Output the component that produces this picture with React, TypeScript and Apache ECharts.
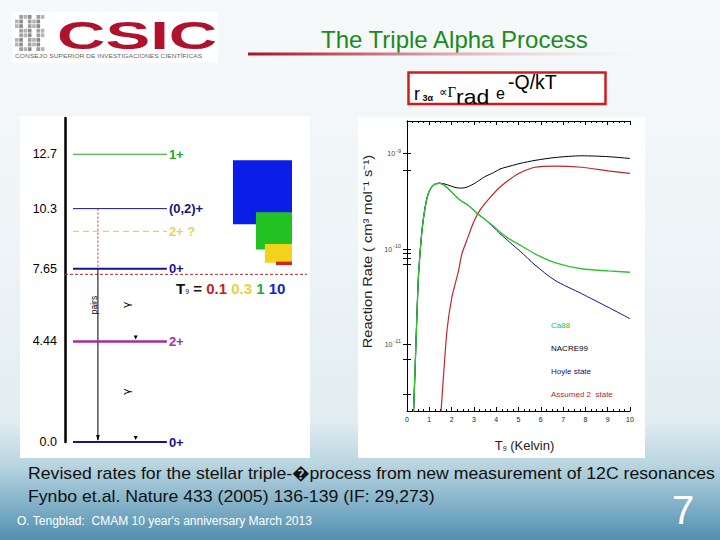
import React, { useEffect, useRef } from 'react';
import * as echarts from 'echarts';

// ---------- Reaction-rate panel (T9 in GK, rate in cm^3 mol^-1 s^-1) ----------
const ca88T = [0.28, 0.37, 0.45, 0.52, 0.67, 0.82, 0.97, 1.19, 1.46, 1.70, 1.94, 2.20, 2.46, 2.68, 2.98, 3.16, 3.50, 3.87, 4.17, 4.62, 5.07, 5.74, 6.63, 7.83, 9.02, 10.0];
const ca88Rate = [1.6e-12, 6.2e-12, 2.2e-11, 5.5e-11, 1.55e-10, 2.8e-10, 3.9e-10, 4.7e-10, 4.9e-10, 4.6e-10, 4.1e-10, 3.55e-10, 3.15e-10, 2.95e-10, 2.57e-10, 2.35e-10, 2.04e-10, 1.74e-10, 1.51e-10, 1.26e-10, 1.10e-10, 8.9e-11, 7.2e-11, 6.2e-11, 5.9e-11, 5.7e-11];

const nacre99T = [0.28, 0.37, 0.45, 0.52, 0.67, 0.82, 0.97, 1.19, 1.46, 1.70, 1.94, 2.20, 2.46, 2.68, 2.98, 3.16, 3.50, 3.87, 4.17, 4.62, 5.07, 5.74, 6.63, 7.83, 9.02, 10.0];
const nacre99Rate = [1.6e-12, 6.2e-12, 2.2e-11, 5.5e-11, 1.55e-10, 2.8e-10, 3.9e-10, 4.7e-10, 4.9e-10, 4.8e-10, 4.6e-10, 4.4e-10, 4.35e-10, 4.45e-10, 4.8e-10, 5.1e-10, 5.75e-10, 6.3e-10, 6.9e-10, 7.4e-10, 7.9e-10, 8.5e-10, 9.1e-10, 9.5e-10, 9.3e-10, 8.9e-10];

const hoyleT = [0.28, 0.37, 0.45, 0.52, 0.67, 0.82, 0.97, 1.19, 1.46, 1.70, 1.94, 2.20, 2.46, 2.68, 2.98, 3.16, 3.50, 3.87, 4.17, 4.62, 5.07, 5.74, 6.63, 7.83, 9.02, 10.0];
const hoyleRate = [1.6e-12, 6.2e-12, 2.2e-11, 5.5e-11, 1.55e-10, 2.8e-10, 3.9e-10, 4.7e-10, 4.9e-10, 4.6e-10, 4.1e-10, 3.55e-10, 3.15e-10, 2.95e-10, 2.57e-10, 2.35e-10, 2.04e-10, 1.70e-10, 1.45e-10, 1.17e-10, 9.5e-11, 6.8e-11, 4.7e-11, 3.4e-11, 2.45e-11, 1.86e-11];

const state2T = [1.50, 1.61, 1.79, 2.01, 2.31, 2.46, 2.68, 2.98, 3.28, 3.73, 4.17, 4.62, 5.07, 5.74, 6.63, 7.83, 9.02, 10.0];
const state2Rate = [1.6e-12, 3.8e-12, 1.38e-11, 3.1e-11, 5.9e-11, 8.9e-11, 1.23e-10, 1.9e-10, 2.57e-10, 3.47e-10, 4.47e-10, 5.4e-10, 6.3e-10, 7.2e-10, 7.4e-10, 7.2e-10, 6.6e-10, 6.2e-10];

const seriesNames = ['Ca88', 'NACRE99', 'Hoyle state', 'Assumed 2  state'];
const rateAxisMin = 2e-12;
const rateAxisMax = 2.2e-9;
const rateLabelValues = [1e-11, 1e-10, 1e-9];
const rateTickValues = [1e-9, 6.7e-10, 1e-10, 9e-11, 8e-11, 7e-11, 1e-11, 7e-12, 3e-12];
const tempAxisMin = 0;
const tempAxisMax = 10;

// ---------- 12C level scheme (MeV) ----------
const levelEnergy = [12.7, 10.3, 9.3, 7.65, 4.44, 0.0];
const levelSpin = ['1+', '(0,2)+', '2+ ?', '0+', '2+', '0+'];
const levelLabelValues = [0.0, 4.44, 7.65, 10.3, 12.7];
const levelLabelText = ['0.0', '4.44', '7.65', '10.3', '12.7'];
const alphaThreshold = 7.4;
const transFrom = [10.3, 7.65, 7.65, 4.44];
const transTo = [7.65, 0.0, 4.44, 0.0];
const transKind = ['dotted', 'pairs', 'gamma', 'gamma'];
const gamowT9 = ['10', '1', '0.3', '0.1'];
const gamowLow = [9.61, 8.50, 7.91, 7.81];
const gamowHigh = [12.44, 10.14, 8.74, 7.96];
const gamowLeft = [0.694, 0.789, 0.826, 0.872];

// ---------- styles ----------
const FONT = 'Liberation Sans, Arial, sans-serif';
const seriesColors = ['#2fc42f', '#000000', '#0c1482', '#c0262c'];
const levelColor = ['#22a822', '#16167a', '#e8d060', '#16168a', '#a42ca4', '#16168a'];
const levelWidth = [1, 1, 1.2, 2, 2.5, 2];
const levelDash = [false, false, true, false, false, false];
const gamowColor = ['#0a1ee8', '#22c222', '#f2d21a', '#d42020'];
const LEVEL_X0 = 0.033;
const LEVEL_X1 = 0.421;
const PAIR_X = 0.136;
const GAMMA_X = 0.255;
const GAMMA_HEAD_X = 0.292;
const GAMOW_RIGHT = 0.938;

function zip(xs: number[], ys: number[]) {
  return xs.map((x, i) => [x, ys[i]]);
}

function logoSquares() {
  const out: any[] = [];
  for (let r = 0; r < 8; r++) {
    for (let c = 0; c < 7; c++) {
      const k = (r * 5 + c * 3 + (r % 2)) % 4;
      if (k === 0) continue;
      out.push({
        type: 'rect',
        shape: { x: 15 + c * 4.3, y: 15 + r * 4.6, width: 3.6, height: 3.8 },
        style: { fill: k === 1 ? '#8a8a8a' : k === 2 ? '#b4b4b4' : '#9e9e9e' },
        z: 5,
      });
    }
  }
  return out;
}

export default function App() {
  const ref = useRef<HTMLDivElement>(null);
  useEffect(() => {
    if (!ref.current) return;
    const chart = echarts.init(ref.current, null, { renderer: 'svg' });

    const rateAxisCommon = {
      type: 'log',
      logBase: 10,
      min: rateAxisMin,
      max: rateAxisMax,
      gridIndex: 0,
      splitLine: { show: false },
      axisLine: { show: true, lineStyle: { color: '#000', width: 1 } },
    };
    const tempAxisCommon = {
      type: 'value',
      min: tempAxisMin,
      max: tempAxisMax,
      interval: 1,
      gridIndex: 0,
      splitLine: { show: false },
      axisLine: { show: true, lineStyle: { color: '#000', width: 1 } },
      axisTick: { show: true, inside: true, length: 4, lineStyle: { color: '#000' } },
      minorTick: { show: true, splitNumber: 4, length: 2, lineStyle: { color: '#000' } },
    };

    const option: any = {
      animation: false,
      textStyle: { fontFamily: FONT },
      grid: [
        { left: 407, top: 121, width: 223, height: 290 },
        { left: 65, top: 118, width: 242, height: 324 },
      ],
      xAxis: [
        {
          ...tempAxisCommon,
          position: 'bottom',
          axisLabel: { fontSize: 7, color: '#222', margin: 5 },
          name: '{t|T}{s|9} (Kelvin)',
          nameLocation: 'middle',
          nameGap: 28,
          nameTextStyle: {
            padding: [0, 0, 0, 12],
            rich: {
              t: { fontSize: 13, color: '#222' },
              s: { fontSize: 7, color: '#222', padding: [6, 0, 0, 0] },
            },
            fontSize: 13,
            color: '#222',
          },
        },
        { ...tempAxisCommon, position: 'top', axisLabel: { show: false } },
        { type: 'value', gridIndex: 1, min: 0, max: 1, show: false },
      ],
      yAxis: [
        {
          ...rateAxisCommon,
          position: 'left',
          axisTick: { show: true, inside: true, length: 4, customValues: rateTickValues, lineStyle: { color: '#000' } },
          axisLabel: {
            customValues: rateLabelValues,
            margin: 6,
            formatter: (v: number) => `{b|10}{e|${Math.round(Math.log10(v))}}`,
            rich: {
              b: { fontSize: 7, color: '#444' },
              e: { fontSize: 5.5, color: '#444', padding: [0, 0, 6, 1] },
            },
          },
        },
        {
          ...rateAxisCommon,
          position: 'right',
          axisTick: { show: true, inside: true, length: 4, customValues: rateTickValues, lineStyle: { color: '#000' } },
          axisLabel: { show: false },
        },
        {
          type: 'value',
          gridIndex: 1,
          min: 0,
          max: 14.3,
          position: 'left',
          splitLine: { show: false },
          axisLine: { show: true, lineStyle: { color: '#000', width: 2.5 } },
          axisTick: { show: false },
          axisLabel: {
            customValues: levelLabelValues,
            formatter: (v: number) => levelLabelText[levelLabelValues.indexOf(v)] ?? String(v),
            fontSize: 12.5,
            color: '#000',
            margin: 8,
          },
        },
      ],
      legend: {
        left: 540,
        top: 315,
        orient: 'vertical',
        icon: 'none',
        itemWidth: 1,
        itemHeight: 10,
        itemGap: 14,
        selectedMode: false,
        textStyle: { fontSize: 8 },
        data: [0, 1, 2, 3].map((i) => ({ name: seriesNames[i], textStyle: { color: seriesColors[i], fontSize: 8 } })),
      },
      series: [
        {
          name: seriesNames[1], type: 'line', xAxisIndex: 0, yAxisIndex: 0, data: zip(nacre99T, nacre99Rate),
          showSymbol: false, smooth: 0.25, lineStyle: { color: seriesColors[1], width: 1 }, itemStyle: { color: seriesColors[1] },
        },
        {
          name: seriesNames[2], type: 'line', xAxisIndex: 0, yAxisIndex: 0, data: zip(hoyleT, hoyleRate),
          showSymbol: false, smooth: 0.25, lineStyle: { color: seriesColors[2], width: 1 }, itemStyle: { color: seriesColors[2] },
        },
        {
          name: seriesNames[3], type: 'line', xAxisIndex: 0, yAxisIndex: 0, data: zip(state2T, state2Rate),
          showSymbol: false, smooth: 0.2, lineStyle: { color: seriesColors[3], width: 1.2 }, itemStyle: { color: seriesColors[3] },
        },
        {
          name: seriesNames[0], type: 'line', xAxisIndex: 0, yAxisIndex: 0, data: zip(ca88T, ca88Rate),
          showSymbol: false, smooth: 0.25, lineStyle: { color: seriesColors[0], width: 1.4 }, itemStyle: { color: seriesColors[0] },
        },
        // Gamow windows
        {
          type: 'custom', xAxisIndex: 2, yAxisIndex: 2, silent: true,
          data: gamowLow.map((lo, i) => [gamowLeft[i], lo, gamowHigh[i]]),
          renderItem: (params: any, api: any) => {
            const i = params.dataIndex;
            const a = api.coord([api.value(0), api.value(2)]);
            const b = api.coord([GAMOW_RIGHT, api.value(1)]);
            return { type: 'rect', shape: { x: a[0], y: a[1], width: b[0] - a[0], height: b[1] - a[1] }, style: { fill: gamowColor[i] } };
          },
        },
        // 3-alpha threshold
        {
          type: 'custom', xAxisIndex: 2, yAxisIndex: 2, silent: true,
          data: [[0, alphaThreshold]],
          renderItem: (_p: any, api: any) => {
            const a = api.coord([0, api.value(1)]);
            const b = api.coord([1, api.value(1)]);
            return { type: 'line', shape: { x1: a[0], y1: a[1], x2: b[0], y2: b[1] }, style: { stroke: '#b02828', lineWidth: 1, lineDash: [3, 2] } };
          },
        },
        // transitions
        {
          type: 'custom', xAxisIndex: 2, yAxisIndex: 2, silent: true,
          data: transFrom.map((f, i) => [i, f, transTo[i]]),
          renderItem: (params: any, api: any) => {
            const i = params.dataIndex;
            const from = api.value(1);
            const to = api.value(2);
            const kind = transKind[i];
            if (kind === 'dotted') {
              const a = api.coord([PAIR_X, from]);
              const b = api.coord([PAIR_X, to]);
              return { type: 'line', shape: { x1: a[0], y1: a[1], x2: b[0], y2: b[1] }, style: { stroke: '#b83a3a', lineWidth: 1, lineDash: [2, 2] } };
            }
            if (kind === 'pairs') {
              const a = api.coord([PAIR_X, from]);
              const b = api.coord([PAIR_X, to]);
              const t = api.coord([PAIR_X, to + 0.79 * (from - to)]);
              return {
                type: 'group',
                children: [
                  { type: 'line', shape: { x1: a[0], y1: a[1], x2: b[0], y2: b[1] - 2 }, style: { stroke: '#000', lineWidth: 1 } },
                  { type: 'polygon', shape: { points: [[b[0] - 1.8, b[1] - 7], [b[0] + 1.8, b[1] - 7], [b[0], b[1] - 1]] }, style: { fill: '#000' } },
                  { type: 'text', x: t[0] - 4, y: t[1], rotation: Math.PI / 2, style: { text: 'pairs', fontSize: 8.5, fontFamily: FONT, fill: '#000', align: 'center', verticalAlign: 'middle' } },
                ],
              };
            }
            const m = api.coord([GAMMA_X, (from + to) / 2]);
            const h = api.coord([GAMMA_HEAD_X, to]);
            return {
              type: 'group',
              children: [
                { type: 'text', x: m[0], y: m[1], rotation: Math.PI / 2, style: { text: 'γ', fontSize: 11, fontFamily: 'DejaVu Sans', fill: '#000', align: 'center', verticalAlign: 'middle' } },
                { type: 'polygon', shape: { points: [[h[0] - 2, h[1] - 6], [h[0] + 2, h[1] - 6], [h[0], h[1] - 2]] }, style: { fill: '#000' } },
              ],
            };
          },
        },
        // levels
        {
          type: 'custom', xAxisIndex: 2, yAxisIndex: 2, silent: true,
          data: levelEnergy.map((e) => [0, e]),
          renderItem: (params: any, api: any) => {
            const i = params.dataIndex;
            const p0 = api.coord([LEVEL_X0, api.value(1)]);
            const p1 = api.coord([LEVEL_X1, api.value(1)]);
            return {
              type: 'group',
              children: [
                {
                  type: 'line',
                  shape: { x1: p0[0], y1: p0[1], x2: p1[0], y2: p1[1] },
                  style: { stroke: levelColor[i], lineWidth: levelWidth[i], lineDash: levelDash[i] ? [6, 4] : null },
                },
                {
                  type: 'text', x: p1[0] + 2, y: p1[1],
                  style: { text: levelSpin[i], fill: levelColor[i], fontSize: 13, fontWeight: 'bold', fontFamily: FONT, align: 'left', verticalAlign: 'middle' },
                },
              ],
            };
          },
        },
      ],
      graphic: [
        // white panels
        { type: 'rect', shape: { x: 20, y: 116, width: 290, height: 342 }, style: { fill: '#ffffff' }, z: -10 },
        { type: 'rect', shape: { x: 358, y: 117, width: 287, height: 341 }, style: { fill: '#ffffff' }, z: -10 },
        // logo
        { type: 'rect', shape: { x: 12, y: 12, width: 206, height: 51 }, style: { fill: '#ffffff' }, z: 1 },
        ...logoSquares(),
        { type: 'text', x: 57, y: 35, scaleX: 1.72, z: 5, style: { text: 'CSIC', fill: '#b0122e', fontSize: 39, fontWeight: 'bold', fontFamily: FONT, verticalAlign: 'middle' } },
        { type: 'text', x: 15, y: 56, scaleX: 1.22, z: 5, style: { text: 'CONSEJO SUPERIOR DE INVESTIGACIONES CIENTÍFICAS', fill: '#666', fontSize: 5.5, fontFamily: FONT, verticalAlign: 'middle' } },
        // title
        { type: 'text', x: 321, y: 39, z: 5, style: { text: 'The Triple Alpha Process', fill: '#1c8a1c', fontSize: 24, fontFamily: FONT, verticalAlign: 'middle' } },
        {
          type: 'rect', shape: { x: 248, y: 52.5, width: 400, height: 3 }, z: 5,
          style: {
            fill: new echarts.graphic.LinearGradient(0, 0, 1, 0, [
              { offset: 0, color: '#a8121e' },
              { offset: 0.45, color: '#d99aa2' },
              { offset: 1, color: 'rgba(245,245,245,0.2)' },
            ]),
          },
        },
        // formula box
        { type: 'rect', shape: { x: 408.5, y: 72.5, width: 197, height: 31.5 }, style: { fill: '#fff', stroke: '#d21c1c', lineWidth: 2.5 }, z: 5 },
        { type: 'text', x: 414, y: 94, z: 6, style: { text: 'r', fontSize: 18, fill: '#000', fontFamily: FONT, verticalAlign: 'middle' } },
        { type: 'text', x: 422.5, y: 98.3, z: 6, style: { text: '3α', fontSize: 9, fontWeight: 'bold', fill: '#000', fontFamily: FONT, verticalAlign: 'middle' } },
        { type: 'text', x: 439, y: 92, z: 6, style: { text: '∝', fontSize: 12, fill: '#000', fontFamily: 'DejaVu Sans', verticalAlign: 'middle' } },
        { type: 'text', x: 447.5, y: 91.5, z: 6, style: { text: 'Γ', fontSize: 15, fill: '#000', fontFamily: 'Liberation Serif', verticalAlign: 'middle' } },
        { type: 'text', x: 456, y: 97, z: 6, scaleX: 1.15, style: { text: 'rad', fontSize: 20, fill: '#000', fontFamily: FONT, verticalAlign: 'middle' } },
        { type: 'text', x: 496, y: 93.5, z: 6, style: { text: 'e', fontSize: 16, fill: '#000', fontFamily: FONT, verticalAlign: 'middle' } },
        { type: 'text', x: 508, y: 82, z: 6, style: { text: '-Q/kT', fontSize: 19.5, fill: '#000', fontFamily: FONT, verticalAlign: 'middle' } },
        // rate axis title
        { type: 'text', x: 368, y: 251.5, rotation: Math.PI / 2, scaleX: 1.12, z: 5, style: { text: 'Reaction Rate ( cm³ mol⁻¹ s⁻¹)', fontSize: 13, fill: '#222', fontFamily: FONT, align: 'center', verticalAlign: 'middle' } },
        // T9 key
        {
          type: 'text', x: 176, y: 288, z: 5,
          style: {
            text: '{t|T}{s|9}{k| = }{r|0.1} {y|0.3} {g|1} {b|10}',
            fontFamily: FONT, fontSize: 15, fontWeight: 'bold', verticalAlign: 'middle',
            rich: {
              t: { fontSize: 15, fontWeight: 'bold', fill: '#111', fontFamily: FONT },
              s: { fontSize: 7, fill: '#111', padding: [7, 0, 0, 0], fontFamily: FONT },
              k: { fontSize: 15, fontWeight: 'bold', fill: '#111', fontFamily: FONT },
              r: { fontSize: 15, fontWeight: 'bold', fill: '#c42222', fontFamily: FONT },
              y: { fontSize: 15, fontWeight: 'bold', fill: '#ecd040', fontFamily: FONT },
              g: { fontSize: 15, fontWeight: 'bold', fill: '#22b022', fontFamily: FONT },
              b: { fontSize: 15, fontWeight: 'bold', fill: '#1024c8', fontFamily: FONT },
            },
          },
        },
        // caption
        { type: 'text', x: 28, y: 473, z: 5, scaleX: 1.04, style: { text: 'Revised rates for the stellar triple-\uFFFDprocess from new measurement of 12C resonances', fontSize: 17, fill: '#111', fontFamily: FONT, verticalAlign: 'middle' } },
        { type: 'text', x: 28, y: 496, z: 5, scaleX: 1.04, style: { text: 'Fynbo et.al. Nature 433 (2005) 136-139 (IF: 29,273)', fontSize: 17, fill: '#111', fontFamily: FONT, verticalAlign: 'middle' } },
        { type: 'text', x: 17, y: 521, z: 5, style: { text: "O. Tengblad:  CMAM 10 year's anniversary March 2013", fontSize: 12, fill: '#ffffff', fontFamily: FONT, verticalAlign: 'middle' } },
        { type: 'text', x: 672, y: 510, z: 5, style: { text: '7', fontSize: 40, fill: '#ffffff', fontFamily: FONT, verticalAlign: 'middle' } },
      ],
    };
    chart.setOption(option);
    return () => chart.dispose();
  }, []);

  return (
    <div
      ref={ref}
      style={{
        position: 'fixed',
        left: 0,
        top: 0,
        width: 720,
        height: 540,
        background:
          'linear-gradient(180deg, #f6f9fa 0%, #eef4f7 45%, #e2edf2 78%, #b9d5e0 86%, #7eaec6 94%, #5290ae 100%)',
      }}
    />
  );
}
